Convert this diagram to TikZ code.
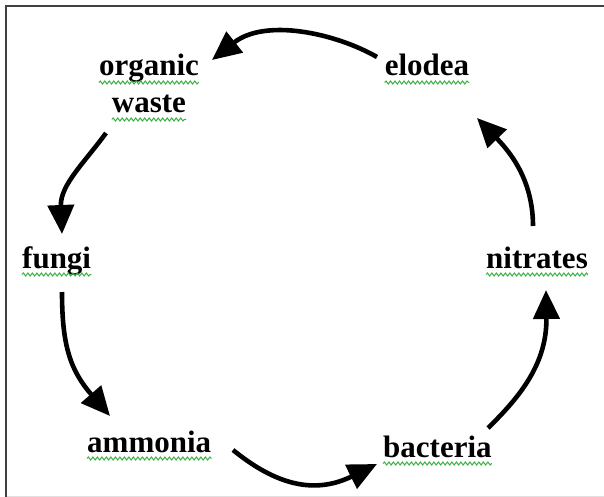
\documentclass[tikz,border=0pt]{standalone}
\usepackage{fontspec}
\setmainfont{Liberation Serif}
\usetikzlibrary{arrows.meta,decorations.pathmorphing}
\definecolor{frame}{HTML}{404040}
\definecolor{squig}{HTML}{3CB043}
\tikzset{
  word/.style={font=\fontsize{31}{31}\selectfont\bfseries, inner sep=0pt, anchor=base},
  arr/.style={line width=4.6pt, -{Triangle[length=29pt,width=26pt]}, black},
  spell/.style={squig, line width=1pt, decorate, decoration={snake, segment length=4.5pt, amplitude=1.5pt}}
}
\begin{document}
\begin{tikzpicture}[x=1pt,y=-1pt]
\useasboundingbox (0,0) rectangle (604,497);
\fill[white] (0,0) rectangle (604,497);
% frame
\draw[frame, line width=2pt] (6,497) -- (6,6) -- (604,6);
\draw[black!12, line width=1pt] (7,496) -- (604,496);
% words
\node[word] (organic) at (149,76) {organic};
\node[word] (waste) at (149,113) {waste};
\node[word] (elodea) at (427,76) {elodea};
\node[word, anchor=base west] (fungi) at (22,268) {fungi};
\node[word, anchor=base east] (nitrates) at (588,268) {nitrates};
\node[word, anchor=base west] (ammonia) at (87,452) {ammonia};
\node[word, anchor=base west] (bacteria) at (383,457) {bacteria};
% spell-check squiggles
\foreach \n in {organic,waste,elodea,fungi,nitrates,ammonia,bacteria}{
  \draw[spell] ([yshift=-6.5pt]\n.base west) -- ([yshift=-6.5pt]\n.base east);
}
% arrow end points
\coordinate (a1s) at (377,57);  \coordinate (a1e) at (212,60);
\coordinate (a2s) at (106,133); \coordinate (a2e) at (62,234);
\coordinate (a3s) at (62,292);  \coordinate (a3e) at (110,416);
\coordinate (a4s) at (233,450); \coordinate (a4e) at (377,464);
\coordinate (a5s) at (488,428); \coordinate (a5e) at (546,290);
\coordinate (a6s) at (533,226); \coordinate (a6e) at (477,118);
% arrows
\draw[arr] (a1s) .. controls (335,33) and (265,18) .. (a1e);
\draw[arr] (a2s) .. controls (85,162) and (60,185) .. (a2e);
\draw[arr] (a3s) .. controls (62,345) and (70,370) .. (a3e);
\draw[arr] (a4s) .. controls (270,480) and (310,497) .. (a4e);
\draw[arr] (a5s) .. controls (522,395) and (547,362) .. (a5e);
\draw[arr] (a6s) .. controls (533,178) and (508,150) .. (a6e);
\end{tikzpicture}
\end{document}
